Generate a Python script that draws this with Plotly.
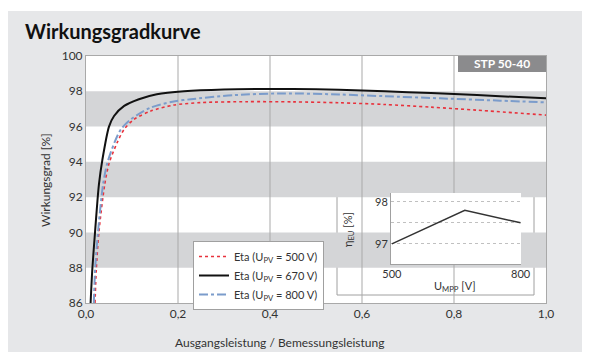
import plotly.graph_objects as go

# ---- data ----
x_670 = [0.010, 0.0137, 0.0196, 0.028, 0.0355, 0.05, 0.061, 0.083, 0.115, 0.154, 0.213, 0.3, 0.4, 0.5, 0.6, 0.7, 0.8, 0.9, 1.0]
y_670 = [86.0, 87.9, 90.0, 92.7, 94.1, 96.0, 96.6, 97.17, 97.55, 97.83, 98.0, 98.1, 98.13, 98.12, 98.05, 97.95, 97.85, 97.72, 97.6]

x_500 = [0.0196, 0.0224, 0.028, 0.0406, 0.05, 0.068, 0.083, 0.104, 0.141, 0.191, 0.25, 0.35, 0.45, 0.55, 0.65, 0.75, 0.85, 1.0]
y_500 = [86.0, 87.9, 90.0, 92.7, 93.9, 95.1, 95.85, 96.4, 96.88, 97.22, 97.36, 97.41, 97.4, 97.35, 97.25, 97.1, 96.93, 96.65]

x_800 = [0.017, 0.020, 0.026, 0.037, 0.046, 0.062, 0.076, 0.097, 0.14, 0.188, 0.228, 0.32, 0.43, 0.55, 0.65, 0.77, 0.9, 1.0]
y_800 = [86.0, 88.0, 90.0, 92.7, 93.9, 95.1, 95.85, 96.4, 97.07, 97.41, 97.55, 97.78, 97.88, 97.82, 97.72, 97.6, 97.47, 97.37]

x_ticks = [0, 0.2, 0.4, 0.6, 0.8, 1.0]
x_ticktext = ["0,0", "0,2", "0,4", "0,6", "0,8", "1,0"]
y_ticks = [86, 88, 90, 92, 94, 96, 98, 100]
bands = [(88, 90), (92, 94), (96, 98)]

inset_u = [500, 670, 800]
inset_eta = [97.0, 97.8, 97.5]

FONT = "Lato"
TXT = "#333333"
PANEL = "#e6e7e9"
BAND = "#d4d5d7"
GRID = "#a9a9a9"

fig = go.Figure()

fig.add_trace(go.Scatter(x=x_500, y=y_500, mode="lines", name="Eta (U<sub>PV</sub> = 500 V)",
                         line=dict(color="#e8323c", width=1.6, dash="dot", shape="spline", smoothing=0.8)))
fig.add_trace(go.Scatter(x=x_670, y=y_670, mode="lines", name="Eta (U<sub>PV</sub> = 670 V)",
                         line=dict(color="#111111", width=2, shape="spline", smoothing=0.8)))
fig.add_trace(go.Scatter(x=x_800, y=y_800, mode="lines", name="Eta (U<sub>PV</sub> = 800 V)",
                         line=dict(color="#7b9ccb", width=2, dash="dashdot", shape="spline", smoothing=0.8)))

fig.add_trace(go.Scatter(x=inset_u, y=inset_eta, mode="lines", xaxis="x2", yaxis="y2", showlegend=False,
                         line=dict(color="#333333", width=1.5)))

# page body has an 8px margin: window px -> figure px = -8
shapes = []
shapes.append(dict(type="rect", xref="paper", yref="paper", x0=-0.3, x1=1.2, y0=(303 - 11) / 247, y1=1.3,
                   fillcolor="white", line=dict(width=0), layer="below"))
for b0, b1 in bands:
    shapes.append(dict(type="rect", xref="x", yref="y", x0=0, x1=1, y0=b0, y1=b1,
                       fillcolor=BAND, line=dict(width=0), layer="below"))
for xv in x_ticks[1:-1]:
    shapes.append(dict(type="line", xref="x", yref="y", x0=xv, x1=xv, y0=86, y1=100,
                       line=dict(color=GRID, width=1), layer="below"))
# inset box
shapes.append(dict(type="rect", xref="paper", yref="paper",
                   x0=(337 - 86) / 460, x1=(534 - 86) / 460, y0=(303 - 295) / 247, y1=(303 - 187) / 247,
                   fillcolor="white", line=dict(color="#a0a0a0", width=1), layer="below"))
# STP label box
shapes.append(dict(type="rect", xref="paper", yref="paper",
                   x0=(458 - 86) / 460, x1=1.0, y0=(303 - 72) / 247, y1=(303 - 55) / 247,
                   fillcolor="#8b8b8d", line=dict(width=0), layer="below"))

annotations = [
    dict(text="<b>Wirkungsgradkurve</b>", xref="paper", yref="paper", x=(23 - 86) / 460, y=(303 - 31) / 247,
         xanchor="left", yanchor="middle", showarrow=False, font=dict(family=FONT, size=20, color="#111111")),
    dict(text="<b>STP 50-40</b>", xref="paper", yref="paper", x=(502 - 86) / 460, y=(303 - 63.5) / 247,
         xanchor="center", yanchor="middle", showarrow=False, font=dict(family=FONT, size=12, color="white")),
    dict(text="Wirkungsgrad [%]", xref="paper", yref="paper", x=(45 - 86) / 460, y=(303 - 180) / 247,
         textangle=-90, xanchor="center", yanchor="middle", showarrow=False,
         font=dict(family=FONT, size=12, color=TXT)),
    dict(text="Ausgangsleistung / Bemessungsleistung", xref="paper", yref="paper", x=(280 - 86) / 460,
         y=(303 - 342) / 247, xanchor="center", yanchor="middle", showarrow=False,
         font=dict(family=FONT, size=12, color=TXT)),
    dict(text="η<sub>EU</sub> [%]", xref="paper", yref="paper", x=(348 - 86) / 460, y=(303 - 230) / 247,
         textangle=-90, xanchor="center", yanchor="middle", showarrow=False,
         font=dict(family=FONT, size=11, color=TXT)),
    dict(text="U<sub>MPP</sub> [V]", xref="paper", yref="paper", x=(455 - 86) / 460, y=(303 - 286) / 247,
         xanchor="center", yanchor="middle", showarrow=False, font=dict(family=FONT, size=11, color=TXT)),
]

fig.update_layout(
    width=582, height=344,
    margin=dict(l=78, r=44, t=48, b=49),
    paper_bgcolor=PANEL, plot_bgcolor="white",
    font=dict(family=FONT, size=12, color=TXT),
    shapes=shapes, annotations=annotations,
    showlegend=True,
    legend=dict(x=(193 - 86) / 460, y=(303 - 241) / 247, xanchor="left", yanchor="top",
                bgcolor="white", bordercolor="#a0a0a0", borderwidth=1,
                font=dict(family=FONT, size=11, color=TXT), itemwidth=30, tracegroupgap=0),
    xaxis=dict(range=[0, 1], tickvals=x_ticks, ticktext=x_ticktext, showgrid=False, zeroline=False,
               showline=True, linecolor=GRID, linewidth=1, mirror=True, ticks="",
               tickfont=dict(size=12, color=TXT)),
    yaxis=dict(range=[86, 100], tickvals=y_ticks, showgrid=False, zeroline=False,
               showline=True, linecolor=GRID, linewidth=1, mirror=True, ticks="",
               tickfont=dict(size=12, color=TXT)),
    xaxis2=dict(domain=[(391 - 86) / 460, (521 - 86) / 460], anchor="y2", range=[498, 801],
                tickvals=[500, 800], showgrid=False, zeroline=False, showline=True, linecolor="#a0a0a0",
                ticks="", tickfont=dict(size=11, color=TXT)),
    yaxis2=dict(domain=[(303 - 264) / 247, (303 - 193) / 247], anchor="x2", range=[96.52, 98.21],
                tickvals=[97, 97.5, 98], ticktext=["97", "", "98"], showgrid=True, gridcolor="#c0c0c0",
                griddash="dot", zeroline=False, showline=True, linecolor="#a0a0a0", ticks="",
                tickfont=dict(size=11, color=TXT)),
)

fig.write_html("out.html")
